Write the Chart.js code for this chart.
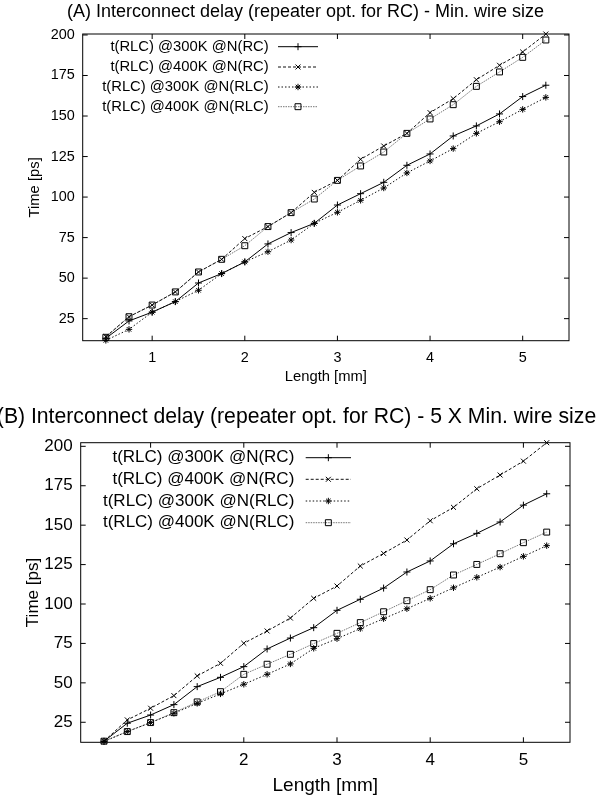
<!DOCTYPE html>
<html>
<head>
<meta charset="utf-8">
<script src="https://cdn.jsdelivr.net/npm/chart.js@4.4.0/dist/chart.umd.min.js"></script>
<style>
  html, body { margin: 0; padding: 0; background: #fff; }
  #chartA { position: absolute; left: 0; top: 0; }
  #chartB { position: absolute; left: 0; top: 395px; }
</style>
</head>
<body>
<canvas id="chartA" width="597" height="395"></canvas>
<canvas id="chartB" width="597" height="402"></canvas>
<script>
// wire length [mm], same for every series
const lengthMm = [0.5, 0.75, 1, 1.25, 1.5, 1.75, 2, 2.25, 2.5, 2.75, 3, 3.25, 3.5, 3.75, 4, 4.25, 4.5, 4.75, 5, 5.25];

const seriesLabels = [
  't(RLC) @300K @N(RC)',
  't(RLC) @400K @N(RC)',
  't(RLC) @300K @N(RLC)',
  't(RLC) @400K @N(RLC)'
];

// (A) min. wire size, delay in ps
const minRc300K  = [12.9, 23.6, 29.0, 35.5, 47.0, 52.8, 60.0, 71.1, 78.1, 83.8, 95.1, 102.1, 109.1, 119.6, 126.6, 137.7, 143.9, 151.3, 162.0, 169.0];
const minRc400K  = [13.9, 26.2, 33.4, 41.5, 53.8, 61.6, 74.4, 81.8, 90.4, 102.9, 110.3, 123.3, 131.5, 139.3, 152.1, 160.7, 172.4, 181.3, 189.5, 200.6];
const minRlc300K = [11.6, 18.4, 29.0, 35.5, 42.5, 52.8, 60.0, 66.3, 73.5, 83.8, 90.6, 98.0, 105.6, 114.9, 122.3, 129.9, 139.3, 146.5, 154.1, 161.5];
const minRlc400K = [13.5, 26.2, 33.4, 41.5, 53.8, 61.6, 70.0, 81.8, 90.4, 98.8, 110.3, 119.2, 127.8, 139.3, 148.2, 157.0, 168.3, 177.2, 186.2, 196.9];

// (B) 5 x min. wire size, delay in ps
const wideRc300K  = [13.0, 24.4, 29.6, 36.2, 47.6, 53.5, 60.3, 71.5, 78.4, 85.0, 96.0, 103.0, 110.1, 120.3, 127.3, 138.2, 144.8, 152.0, 162.7, 169.9];
const wideRc400K  = [13.0, 26.5, 33.9, 41.9, 54.4, 62.4, 75.1, 82.9, 91.1, 103.6, 111.4, 124.1, 132.1, 140.6, 152.8, 161.3, 173.1, 181.8, 190.6, 202.3];
const wideRlc300K = [12.8, 19.1, 24.8, 30.7, 37.0, 43.0, 49.1, 55.4, 62.0, 71.9, 78.0, 84.4, 90.7, 97.0, 103.6, 110.3, 116.9, 123.4, 130.2, 137.0];
const wideRlc400K = [13.0, 19.1, 24.8, 31.1, 37.9, 44.4, 55.4, 61.8, 68.1, 74.9, 81.4, 88.2, 95.1, 102.1, 109.1, 118.4, 125.1, 131.9, 138.9, 145.6];

const xTickValues = [1, 2, 3, 4, 5];
const yTickValues = [25, 50, 75, 100, 125, 150, 175, 200];

const FONT = "'Liberation Sans', Arial, Helvetica, sans-serif";

// gnuplot-ish line types
const lineStyles = [
  { color: '#000', dash: [], point: 'cross', radius: 3.5 },
  { color: '#111', dash: [3, 2], point: 'crossRot', radius: 3.5 },
  { color: '#111', dash: [1.5, 2], point: 'star', radius: 3.2 },
  { color: '#777', dash: [1.5, 1], point: 'rect', radius: 4.2 }
];

function toPoints(values) {
  return lengthMm.map((x, i) => ({ x: x, y: values[i] }));
}

// frame box with inward ticks on all four sides
const frameBox = {
  id: 'frameBox',
  beforeDatasetsDraw(chart) {
    const { ctx, chartArea: a, scales } = chart;
    const t = 5;
    ctx.save();
    ctx.strokeStyle = '#000';
    ctx.lineWidth = 1;
    ctx.strokeRect(a.left, a.top, a.right - a.left, a.bottom - a.top);
    ctx.beginPath();
    xTickValues.forEach(v => {
      const px = scales.x.getPixelForValue(v);
      ctx.moveTo(px, a.bottom); ctx.lineTo(px, a.bottom - t);
      ctx.moveTo(px, a.top); ctx.lineTo(px, a.top + t);
    });
    yTickValues.forEach(v => {
      const py = scales.y.getPixelForValue(v);
      ctx.moveTo(a.left, py); ctx.lineTo(a.left + t, py);
      ctx.moveTo(a.right, py); ctx.lineTo(a.right - t, py);
    });
    ctx.stroke();
    ctx.restore();
  }
};

const plotTitle = {
  id: 'plotTitle',
  afterDraw(chart, args, opts) {
    const ctx = chart.ctx;
    ctx.save();
    ctx.font = opts.size + 'px ' + FONT;
    ctx.fillStyle = '#000';
    ctx.textAlign = 'center';
    ctx.textBaseline = 'middle';
    ctx.fillText(opts.text, opts.x, opts.y);
    ctx.restore();
  }
};

// key: text right-aligned, then line sample with its point
const keyBox = {
  id: 'keyBox',
  afterDatasetsDraw(chart, args, opts) {
    const ctx = chart.ctx;
    ctx.save();
    chart.data.datasets.forEach((ds, i) => {
      const y = opts.rows[i];
      ctx.font = opts.size + 'px ' + FONT;
      ctx.fillStyle = '#000';
      ctx.textAlign = 'right';
      ctx.textBaseline = 'middle';
      ctx.fillText(ds.label, opts.textRight, y);
      ctx.beginPath();
      ctx.strokeStyle = ds.borderColor;
      ctx.lineWidth = ds.borderWidth;
      ctx.setLineDash(ds.borderDash);
      ctx.moveTo(opts.lineFrom, y);
      ctx.lineTo(opts.lineTo, y);
      ctx.stroke();
      ctx.setLineDash([]);
      ctx.strokeStyle = ds.pointBorderColor;
      ctx.fillStyle = 'rgba(0,0,0,0)';
      Chart.helpers.drawPoint(ctx, {
        pointStyle: ds.pointStyle, radius: ds.pointRadius, rotation: 0, borderWidth: 1
      }, (opts.lineFrom + opts.lineTo) / 2, y);
    });
    ctx.restore();
  }
};

function makeChart(id, cfg) {
  const datasets = cfg.series.map((values, i) => {
    const st = lineStyles[i];
    return {
      label: seriesLabels[i],
      data: toPoints(values),
      borderColor: st.color,
      borderWidth: 1,
      borderDash: st.dash,
      pointStyle: st.point,
      pointRadius: st.radius,
      pointBorderColor: '#000',
      pointBackgroundColor: 'rgba(0,0,0,0)',
      pointBorderWidth: 1,
      tension: 0,
      clip: false
    };
  });
  const tickFont = { family: FONT, size: cfg.tickSize };
  return new Chart(document.getElementById(id), {
    type: 'line',
    data: { datasets: datasets },
    options: {
      responsive: false,
      animation: false,
      events: [],
      layout: { padding: cfg.padding },
      plugins: {
        legend: { display: false },
        tooltip: { enabled: false },
        plotTitle: cfg.title,
        keyBox: cfg.key
      },
      scales: {
        x: {
          type: 'linear',
          min: 0.25,
          max: 5.5,
          afterBuildTicks: s => { s.ticks = xTickValues.map(v => ({ value: v })); },
          afterFit: s => { s.height = cfg.xAxisHeight; },
          grid: { display: false, drawTicks: false },
          border: { display: false },
          ticks: { padding: cfg.xTickPad, font: tickFont, color: '#000', maxRotation: 0 },
          title: {
            display: true, text: 'Length [mm]', color: '#000',
            font: { family: FONT, size: cfg.xTitleSize },
            padding: { top: 0, bottom: cfg.xTitlePad }
          }
        },
        y: {
          type: 'linear',
          min: cfg.yMin,
          max: cfg.yMax,
          afterBuildTicks: s => { s.ticks = yTickValues.map(v => ({ value: v })); },
          afterFit: s => { s.width = cfg.yAxisWidth; },
          grid: { display: false, drawTicks: false },
          border: { display: false },
          ticks: { padding: 8, font: tickFont, color: '#000' },
          title: {
            display: true, text: 'Time [ps]', color: '#000',
            font: { family: FONT, size: cfg.yTitleSize },
            padding: { top: cfg.yTitlePad, bottom: 0 }
          }
        }
      }
    },
    plugins: [frameBox, plotTitle, keyBox]
  });
}

makeChart('chartA', {
  series: [minRc300K, minRc400K, minRlc300K, minRlc400K],
  yMin: 11.4, yMax: 200.6,
  padding: { top: 34, right: 28, bottom: 0, left: 0 },
  yAxisWidth: 82.7, xAxisHeight: 54.3,
  tickSize: 14.4, xTickPad: 9, xTitleSize: 14.8, xTitlePad: 9.3, yTitleSize: 14.8, yTitlePad: 26.3,
  title: { text: '(A) Interconnect delay (repeater opt. for RC) - Min. wire size', size: 18, x: 305.5, y: 12 },
  key: { size: 14.8, textRight: 268.7, lineFrom: 278, lineTo: 318, rows: [46.7, 67, 87, 106.7] }
});

makeChart('chartB', {
  series: [wideRc300K, wideRc400K, wideRlc300K, wideRlc400K],
  yMin: 12.3, yMax: 202.3,
  padding: { top: 47.7, right: 27, bottom: 0, left: 0 },
  yAxisWidth: 80.7, xAxisHeight: 54.7,
  tickSize: 17, xTickPad: 7.5, xTitleSize: 19, xTitlePad: 0, yTitleSize: 17, yTitlePad: 22.8,
  title: { text: '(B) Interconnect delay (repeater opt. for RC) - 5 X Min. wire size', size: 21.2, x: 296.5, y: 22 },
  key: { size: 17, textRight: 294.3, lineFrom: 305.7, lineTo: 351, rows: [62.7, 84.3, 106, 127.7] }
});
</script>
</body>
</html>
